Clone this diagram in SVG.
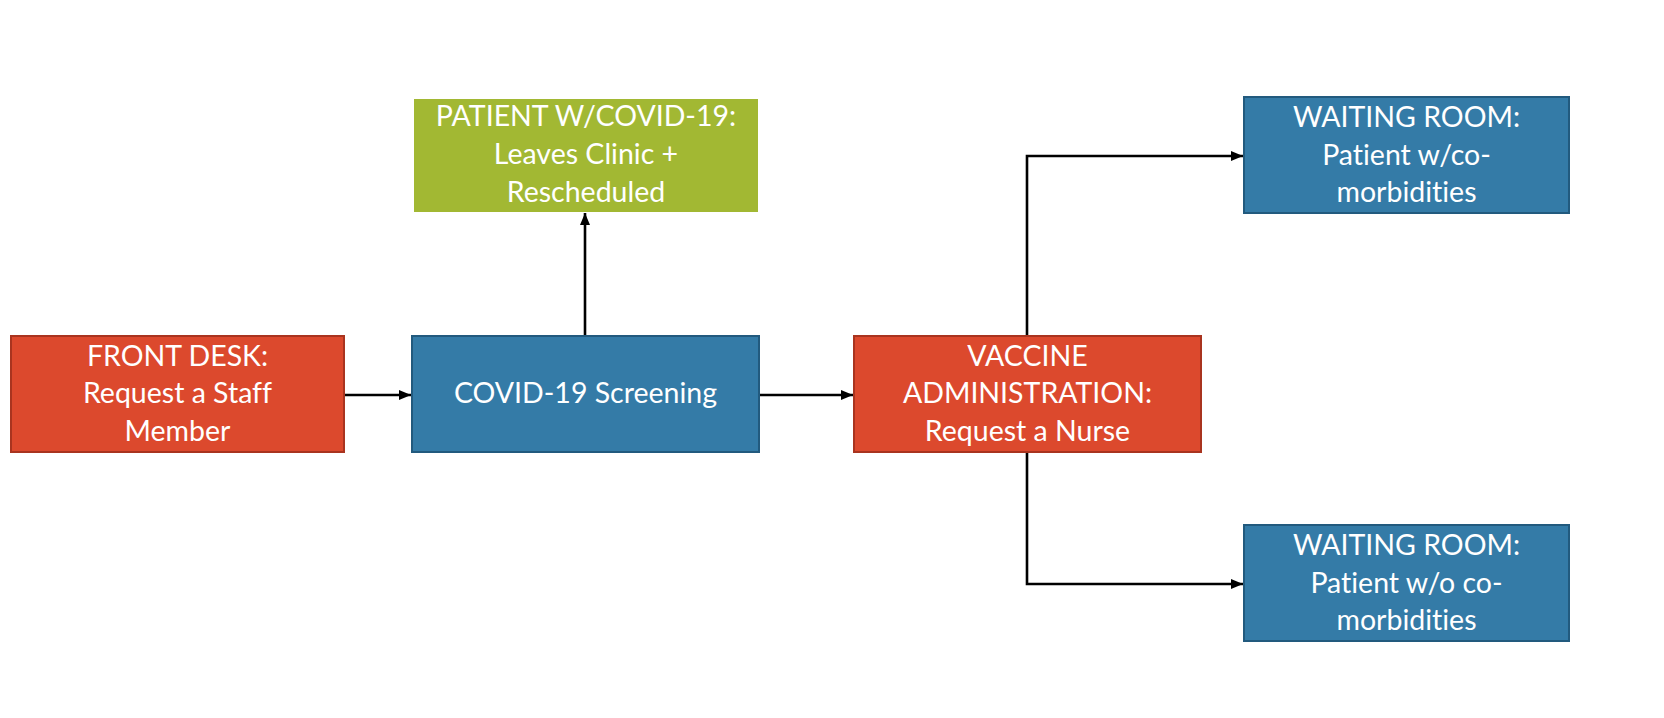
<svg xmlns="http://www.w3.org/2000/svg" width="1664" height="718" viewBox="0 0 1664 718">
<style>
.red{fill:#DC492D;stroke:#A9341F;stroke-width:2}
.blue{fill:#347BA7;stroke:#225A7E;stroke-width:2}
.green{fill:#A2B833;stroke:none}
.t{font-family:Lato,"Open Sans",sans-serif;font-size:28.5px;fill:#ffffff;text-anchor:middle;font-variant-ligatures:none}
.c{fill:none;stroke:#000;stroke-width:2.6}
</style>
<defs>
<marker id="ah" viewBox="0 0 12 10" refX="12" refY="5" markerWidth="12" markerHeight="10" markerUnits="userSpaceOnUse" orient="auto">
<path d="M0,0 L12,5 L0,10 Z" fill="#000"/>
</marker>
</defs>
<rect width="1664" height="718" fill="#fff"/>
<g id="connectors">
<path class="c" d="M344,395 L411,395" marker-end="url(#ah)"/>
<path class="c" d="M585,336 L585,213" marker-end="url(#ah)"/>
<path class="c" d="M759,395 L853,395" marker-end="url(#ah)"/>
<path class="c" d="M1027,336 L1027,156 L1243,156" marker-end="url(#ah)"/>
<path class="c" d="M1027,452 L1027,584 L1243,584" marker-end="url(#ah)"/>
</g>
<g id="front-desk">
<rect class="red" x="11" y="336" width="333" height="116"/>
<text class="t"><tspan x="177.5" y="366">FRONT DESK:</tspan><tspan x="177.5" y="403">Request a Staff</tspan><tspan x="177.5" y="441">Member</tspan></text>
</g>
<g id="screening">
<rect class="blue" x="412" y="336" width="347" height="116"/>
<text class="t" x="585.5" y="403">COVID-19 Screening</text>
</g>
<g id="patient-covid">
<rect class="green" x="414" y="99" width="344" height="113"/>
<text class="t"><tspan x="586" y="126">PATIENT W/COVID-19:</tspan><tspan x="586" y="164">Leaves Clinic +</tspan><tspan x="586" y="202">Rescheduled</tspan></text>
</g>
<g id="vaccine">
<rect class="red" x="854" y="336" width="347" height="116"/>
<text class="t"><tspan x="1027.5" y="366">VACCINE</tspan><tspan x="1027.5" y="403">ADMINISTRATION:</tspan><tspan x="1027.5" y="441">Request a Nurse</tspan></text>
</g>
<g id="waiting-co">
<rect class="blue" x="1244" y="97" width="325" height="116"/>
<text class="t"><tspan x="1406.5" y="127">WAITING ROOM:</tspan><tspan x="1406.5" y="165">Patient w/co-</tspan><tspan x="1406.5" y="202">morbidities</tspan></text>
</g>
<g id="waiting-noco">
<rect class="blue" x="1244" y="525" width="325" height="116"/>
<text class="t"><tspan x="1406.5" y="555">WAITING ROOM:</tspan><tspan x="1406.5" y="593">Patient w/o co-</tspan><tspan x="1406.5" y="630">morbidities</tspan></text>
</g>
</svg>
